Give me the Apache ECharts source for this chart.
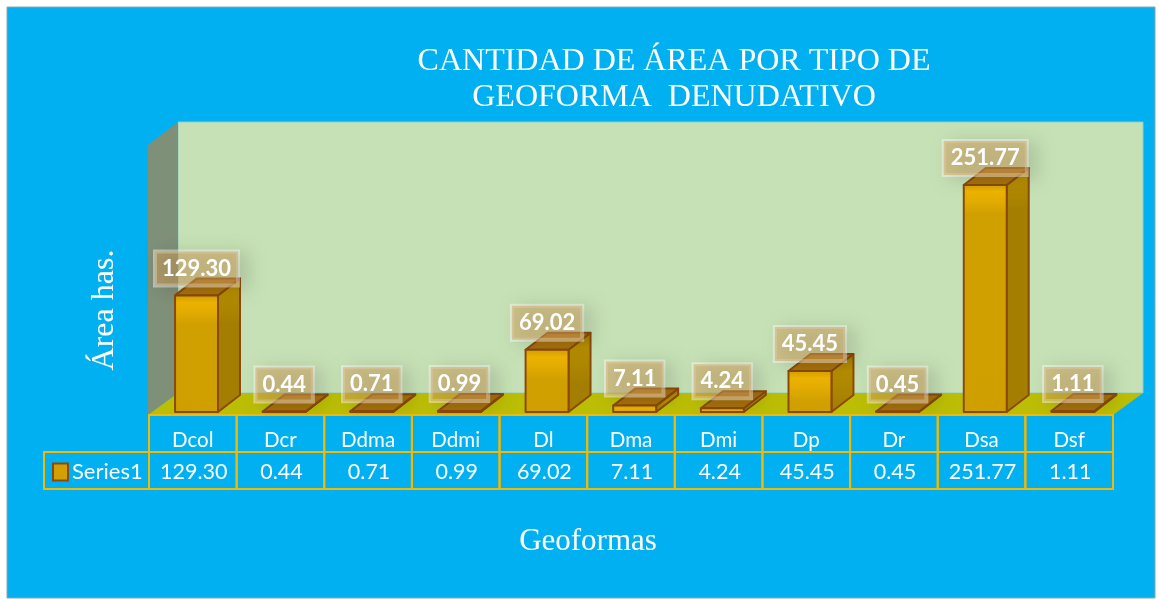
<!DOCTYPE html>
<html>
<head>
<meta charset="utf-8">
<style>
  html, body { margin: 0; padding: 0; background: #fff; }
  #chart { width: 1159px; height: 599px; }
</style>
<script src="https://cdn.jsdelivr.net/npm/echarts@6/dist/echarts.min.js"></script>
</head>
<body>
<div id="chart"></div>
<script>
const categories = ['Dcol', 'Dcr', 'Ddma', 'Ddmi', 'Dl', 'Dma', 'Dmi', 'Dp', 'Dr', 'Dsa', 'Dsf']
const values = [129.30, 0.44, 0.71, 0.99, 69.02, 7.11, 4.24, 45.45, 0.45, 251.77, 1.11]

const BLUE = '#00b0f0'
const GOLD = '#f5b800'
const EDGE = '#8b4a0c'
const BODY_FONT = 'Lato, "Noto Sans", sans-serif'
const DEPTH_X = 22
const DEPTH_Y = -17
const BAR_SHIFT = 3.7

function poly(points, fill, z) {
  return {
    type: 'polygon',
    z: z,
    shape: { points: points },
    style: { fill: fill, stroke: EDGE, lineWidth: 2, lineJoin: 'round' },
  }
}

function renderBar(params, api) {
  const i = api.value(0)
  const top = api.coord([i, api.value(1)])
  const base = api.coord([i, 0])
  const w = api.size([1, 0])[0] * 0.49
  const l = top[0] + BAR_SHIFT - w / 2
  const r = l + w
  const frontFill = new echarts.graphic.LinearGradient(0, 0, 0, 1, [
    { offset: 0, color: '#d6a400' },
    { offset: Math.min(0.5, 8 / Math.max(base[1] - top[1], 1)), color: '#efb400' },
    { offset: Math.min(0.9, 30 / Math.max(base[1] - top[1], 1)), color: '#d0a000' },
    { offset: 1, color: '#cf9f00' },
  ])
  const sideFill = new echarts.graphic.LinearGradient(0, 0, 0, 1, [
    { offset: 0, color: '#a47f00' },
    { offset: Math.min(0.5, 12 / Math.max(base[1] - top[1], 1)), color: '#b88f00' },
    { offset: Math.min(0.9, 40 / Math.max(base[1] - top[1], 1)), color: '#a37e00' },
    { offset: 1, color: '#a37e00' },
  ])
  return {
    type: 'group',
    children: [
      poly([[r, top[1]], [r + DEPTH_X, top[1] + DEPTH_Y], [r + DEPTH_X, base[1] + DEPTH_Y], [r, base[1]]], sideFill, 1),
      poly([[l, top[1]], [l + DEPTH_X, top[1] + DEPTH_Y], [r + DEPTH_X, top[1] + DEPTH_Y], [r, top[1]]], '#a8720c', 1),
      poly([[l, top[1]], [r, top[1]], [r, base[1]], [l, base[1]]], frontFill, 2),
    ],
  }
}

function renderDataLabel(params, api) {
  const i = api.value(0)
  const top = api.coord([i, api.value(1)])
  return {
    type: 'text',
    x: top[0] + BAR_SHIFT,
    y: top[1] - 27,
    style: {
      text: api.value(1).toFixed(2),
      align: 'center',
      verticalAlign: 'middle',
      font: 'bold 22px ' + BODY_FONT,
      fill: '#fff',
      padding: [6, 7, 6, 7],
      backgroundColor: 'rgba(210,160,90,0.5)',
      borderColor: 'rgba(255,255,255,0.45)',
      borderWidth: 2,
      shadowColor: 'rgba(0,0,0,0.25)',
      shadowBlur: 18,
      shadowOffsetX: 8,
      shadowOffsetY: 3,
    },
  }
}

function renderTableCell(params, api) {
  const i = api.value(0)
  const c = api.coord([i, 0])
  const band = api.size([1, 0])[0]
  const l = c[0] - band / 2
  const cell = (y, h) => ({
    type: 'rect',
    shape: { x: l, y: y, width: band, height: h },
    style: { fill: 'none', stroke: GOLD, lineWidth: 2 },
  })
  return {
    type: 'group',
    children: [
      cell(c[1] + 3, 37),
      cell(c[1] + 40, 37),
      {
        type: 'text',
        x: c[0] + 1,
        y: c[1] + 60,
        style: {
          text: api.value(1).toFixed(2),
          align: 'center',
          verticalAlign: 'middle',
          font: '21.5px ' + BODY_FONT,
          fill: '#fff',
        },
      },
    ],
  }
}

const chart = echarts.init(document.getElementById('chart'))
const seriesData = categories.map((c, i) => [i, values[i]])

chart.setOption({
  animation: false,
  title: {
    text: 'CANTIDAD DE ÁREA POR TIPO DE\nGEOFORMA  DENUDATIVO',
    left: 669,
    top: 39,
    textAlign: 'center',
    textStyle: {
      color: '#fff',
      fontFamily: '"Liberation Serif", serif',
      fontWeight: 'normal',
      fontSize: 32,
      lineHeight: 36,
    },
  },
  legend: {
    data: ['Series1'],
    left: 52,
    top: 461,
    padding: 0,
    itemGap: 0,
    itemWidth: 15,
    itemHeight: 17,
    selectedMode: false,
    icon: 'rect',
    textStyle: { color: '#fff', fontFamily: BODY_FONT, fontSize: 22, padding: [0, 0, 0, -1] },
  },
  grid: { left: 149, width: 964, top: 141.5, height: 270.5 },
  xAxis: {
    type: 'category',
    data: categories,
    axisLine: { show: false },
    axisTick: { show: false },
    axisLabel: { color: '#fff', fontFamily: BODY_FONT, fontSize: 20.5, margin: 18, interval: 0 },
  },
  yAxis: {
    type: 'value',
    min: 0,
    max: 300,
    interval: 50,
    axisLine: { show: false },
    axisTick: { show: false },
    axisLabel: { show: false },
    splitLine: { show: false },
  },
  graphic: [
    { type: 'rect', z: -5, shape: { x: 7, y: 7, width: 1148, height: 591 }, style: { fill: BLUE, stroke: '#8fa3ad', lineWidth: 1 } },
    { type: 'polygon', z: -4, shape: { points: [[178, 122], [1143, 122], [1143, 393], [178, 393]] }, style: { fill: '#c7e1b6', stroke: '#8fcfc8', lineWidth: 1 } },
    { type: 'polygon', z: -4, shape: { points: [[148, 145], [178, 122], [178, 393], [148, 415]] }, style: { fill: '#7f9078' } },
    { type: 'polygon', z: -4, shape: { points: [[148, 415], [178, 393], [1143, 393], [1113, 415]] }, style: { fill: '#bcbe05' } },
    { type: 'rect', z: 1, shape: { x: 44, y: 452, width: 105, height: 37 }, style: { fill: 'none', stroke: GOLD, lineWidth: 2 } },
    {
      type: 'text',
      z: 5,
      x: 105,
      y: 310,
      rotation: Math.PI / 2,
      style: { text: 'Área has.', align: 'center', verticalAlign: 'middle', fill: '#fff', font: '32px "Liberation Serif", serif' },
    },
    {
      type: 'text',
      z: 5,
      x: 588,
      y: 542,
      style: { text: 'Geoformas', align: 'center', verticalAlign: 'middle', fill: '#fff', font: '31px "Liberation Serif", serif' },
    },
  ],
  series: [
    {
      name: 'Table',
      type: 'custom',
      z: 1,
      silent: true,
      clip: false,
      renderItem: renderTableCell,
      data: seriesData,
    },
    {
      name: 'Series1',
      type: 'custom',
      z: 3,
      clip: false,
      renderItem: renderBar,
      itemStyle: { color: '#d2a000', borderColor: EDGE, borderWidth: 2 },
      data: seriesData,
    },
    {
      name: 'Labels',
      type: 'custom',
      z: 4,
      silent: true,
      clip: false,
      renderItem: renderDataLabel,
      data: seriesData,
    },
  ],
})
</script>
</body>
</html>
